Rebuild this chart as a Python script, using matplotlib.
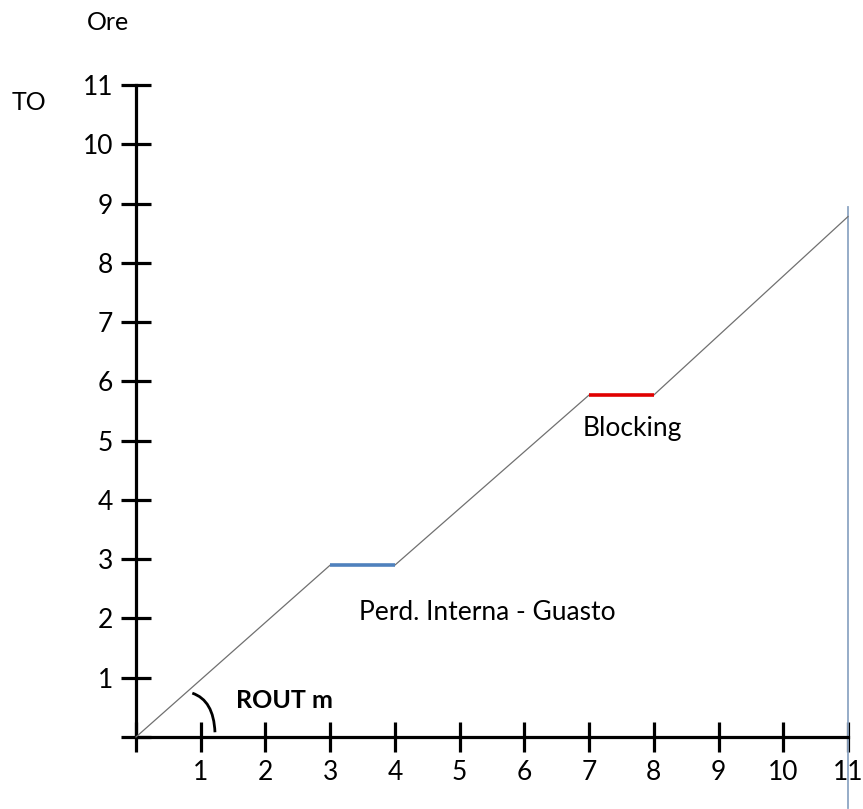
import matplotlib.pyplot as plt
from matplotlib.path import Path
from matplotlib.patches import PathPatch

# Data
x_pts = [0, 3, 4, 7, 8, 11]
y_pts = [0, 2.9, 2.9, 5.77, 5.77, 8.78]
ticks = list(range(0, 12))
tick_labels = [""] + [str(t) for t in range(1, 12)]

plt.rcParams['font.family'] = ['Lato', 'DejaVu Sans']

W, H = 863, 809
fig = plt.figure(figsize=(W / 100, H / 100), dpi=100)
# axes box: data 0..11 on both axes
ax = fig.add_axes([136 / W, (H - 737) / H, (848 - 136) / W, (737 - 85) / H])
ax.set_xlim(0, 11)
ax.set_ylim(0, 11)

# main grey line
ax.plot(x_pts, y_pts, color="#707070", lw=0.9, clip_on=False, zorder=3)
# flat segments
ax.plot(x_pts[1:3], y_pts[1:3], color="#4F81BD", lw=2.6, solid_capstyle="butt", zorder=4)
ax.plot(x_pts[3:5], y_pts[3:5], color="#E00000", lw=2.6, solid_capstyle="butt", zorder=4)
# vertical line at the end
ax.plot([11, 11], [8.95, -1.2], color="#8EA6C4", lw=1.3, clip_on=False, zorder=2)

# axes as crossing lines with inout ticks
for s in ["top", "right"]:
    ax.spines[s].set_visible(False)
ax.spines["left"].set_bounds(0, 11)
ax.spines["bottom"].set_bounds(0, 11)
ax.spines["left"].set_linewidth(2.3)
ax.spines["bottom"].set_linewidth(2.3)
ax.set_xticks(ticks)
ax.set_yticks(ticks)
ax.set_xticklabels(tick_labels)
ax.set_yticklabels(tick_labels)
ax.tick_params(direction="inout", length=21, width=2.3, labelsize=19, colors="black")
ax.tick_params(axis="x", pad=6)
ax.tick_params(axis="y", pad=6)

# curved angle mark
verts = [(0.87, 0.74), (1.20, 0.62), (1.22, 0.08)]
path = Path(verts, [Path.MOVETO, Path.CURVE3, Path.CURVE3])
ax.add_patch(PathPatch(path, fill=False, lw=2.0, color="black", clip_on=False))

# annotations
ax.text(1.55, 0.62, "ROUT m", fontsize=18, fontweight="bold", va="center", ha="left")
ax.text(6.9, 5.2, "Blocking", fontsize=19, va="center", ha="left")
ax.text(3.45, 2.1, "Perd. Interna - Guasto", fontsize=19, va="center", ha="left")

fig.text(87 / W, 1 - 22 / H, "Ore", fontsize=18, va="center", ha="left")
fig.text(12 / W, 1 - 102 / H, "TO", fontsize=18, va="center", ha="left")

fig.savefig("out.png", dpi=100)
